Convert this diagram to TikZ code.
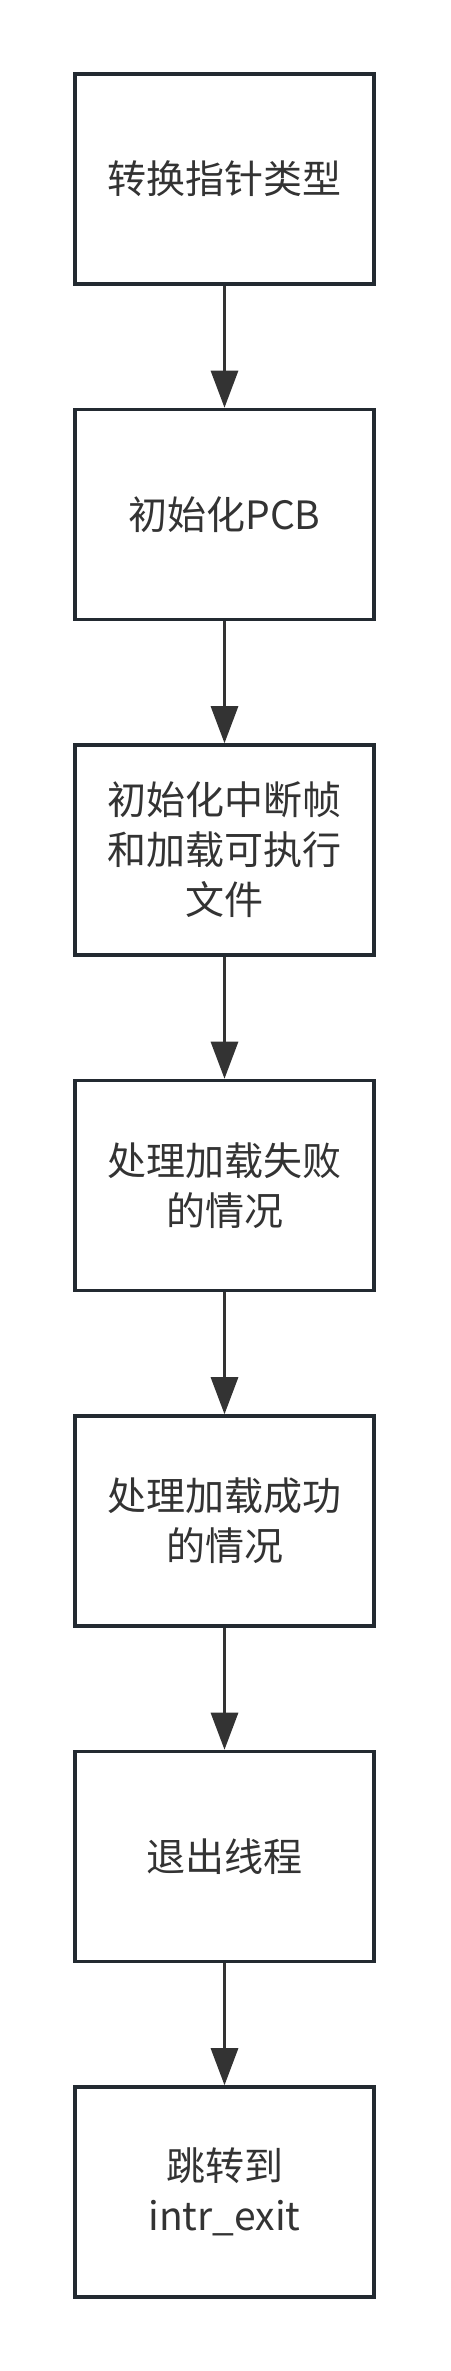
\documentclass[tikz,border=0pt]{standalone}
\usepackage{fontspec}
\setmainfont{Noto Sans CJK SC}
\usetikzlibrary{arrows.meta,positioning}
\definecolor{boxline}{HTML}{232A31}
\definecolor{inkgray}{HTML}{333333}

\begin{document}
\begin{tikzpicture}[x=1pt,y=1pt,node distance=335.5pt,on grid,
    procbox/.style={draw=boxline,line width=3.5pt,fill=white,text=inkgray,
        minimum width=299pt,minimum height=210pt,inner sep=0pt,
        align=center,font=\fontsize{39}{50}\selectfont},
    flow/.style={draw=inkgray,line width=3pt,
        -{Triangle[width=27pt,length=37pt,fill=inkgray]}}]
                        \useasboundingbox (0,0) rectangle (450,2371);
                        \node[procbox] (cast) at (224.5,2192) {转换指针类型};
                        \node[procbox] (pcb) [below=of cast] {初始化PCB};
                        \node[procbox] (frame) [below=of pcb] {初始化中断帧\\和加载可执行\\文件};
                        \node[procbox] (fail) [below=of frame] {处理加载失败\\的情况};
                        \node[procbox] (ok) [below=of fail] {处理加载成功\\的情况};
                        \node[procbox] (quit) [below=of ok] {退出线程};
                        \node[procbox] (jump) [below=of quit] {跳转到\\intr\_exit};
                        \path[flow]
                            (cast) edge (pcb)
                            (pcb) edge (frame)
                            (frame) edge (fail)
                            (fail) edge (ok)
                            (ok) edge (quit)
                            (quit) edge (jump);
                    \end{tikzpicture}
\end{document}
